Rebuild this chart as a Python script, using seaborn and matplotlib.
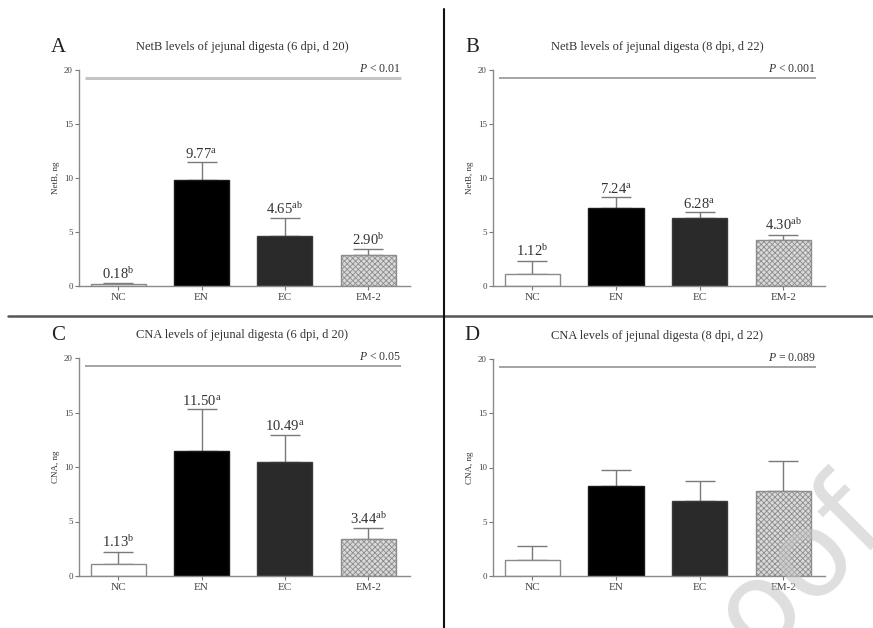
import matplotlib
matplotlib.use("Agg")
import matplotlib.pyplot as plt
from matplotlib.lines import Line2D
import seaborn as sns
import pandas as pd

# ---------------- data ----------------
groups = ["NC", "EN", "EC", "EM-2"]

netb_d20 = [0.18, 9.77, 4.65, 2.90]
netb_d20_err = [0.08, 1.70, 1.62, 0.50]
netb_d20_sup = ["b", "a", "ab", "b"]

netb_d22 = [1.12, 7.24, 6.28, 4.30]
netb_d22_err = [1.19, 0.96, 0.54, 0.42]
netb_d22_sup = ["b", "a", "a", "ab"]

cna_d20 = [1.13, 11.50, 10.49, 3.44]
cna_d20_err = [1.08, 3.80, 2.46, 0.92]
cna_d20_sup = ["b", "a", "a", "ab"]

cna_d22 = [1.51, 8.32, 6.93, 7.83]
cna_d22_err = [1.23, 1.45, 1.85, 2.80]

panel_letters = ["A", "B", "C", "D"]
titles = [
    "NetB levels of jejunal digesta (6 dpi, d 20)",
    "NetB levels of jejunal digesta (8 dpi, d 22)",
    "CNA levels of jejunal digesta (6 dpi, d 20)",
    "CNA levels of jejunal digesta (8 dpi, d 22)",
]
ylabels = ["NetB, ng", "NetB, ng", "CNA, ng", "CNA, ng"]
pvals = ["< 0.01", "< 0.001", "< 0.05", "= 0.089"]
yticks = [0, 5, 10, 15, 20]

# ---------------- style ----------------
sns.set_theme(style="ticks")
plt.rcParams["font.family"] = ["Liberation Serif", "DejaVu Serif"]
plt.rcParams["mathtext.fontset"] = "custom"
plt.rcParams["mathtext.rm"] = "Liberation Serif"
plt.rcParams["mathtext.it"] = "Liberation Serif:italic"
plt.rcParams["hatch.linewidth"] = 0.6

face = {"NC": "#ffffff", "EN": "#000000", "EC": "#2a2a2a", "EM-2": "#d9d9d9"}
edge = {"NC": "#8a8a8a", "EN": "#1a1a1a", "EC": "#3a3a3a", "EM-2": "#8c8c8c"}

W, H = 873, 628
fig = plt.figure(figsize=(W / 100, H / 100), dpi=100)


def px_axes(left, right, top, bottom):
    return fig.add_axes([left / W, 1 - bottom / H, (right - left) / W, (bottom - top) / H])


boxes = [(79, 410, 70, 286), (493, 825, 70, 286), (79, 410, 358, 576), (493, 825, 359, 576)]
series = [
    (netb_d20, netb_d20_err, netb_d20_sup),
    (netb_d22, netb_d22_err, netb_d22_sup),
    (cna_d20, cna_d20_err, cna_d20_sup),
    (cna_d22, cna_d22_err, None),
]
pline_col = ["#c4c4c4", "#8a8a8a", "#8a8a8a", "#8a8a8a"]
pline_lw = [2.2, 1.1, 1.1, 1.1]

for i, (box, (vals, errs, sups)) in enumerate(zip(boxes, series)):
    ax = px_axes(*box)
    df = pd.DataFrame({"group": groups, "value": vals})
    sns.barplot(data=df, x="group", y="value", hue="group", palette=face,
                width=0.66, legend=False, ax=ax, errorbar=None, zorder=2)
    for patch, g in zip(ax.patches, groups):
        patch.set_edgecolor(edge[g])
        patch.set_linewidth(1.0)
        if g == "EM-2":
            patch.set_hatch("xxxxxx")
    ax.errorbar(range(len(groups)), vals, yerr=[[0] * len(errs), errs], fmt="none",
                ecolor="#7a7a7a", elinewidth=1.0, capsize=10.5, capthick=1.0, zorder=1)
    if sups is not None:
        for k, (v, e, s) in enumerate(zip(vals, errs, sups)):
            ax.text(k, v + e + 0.15, rf"$\mathregular{{{v:.2f}^{{{s}}}}}$", ha="center",
                    va="bottom", fontsize=10.5, color="#333333")
    ax.set_xlim(-0.47, 3.5)
    ax.set_ylim(0, 20)
    ax.set_yticks(yticks)
    ax.set_xlabel("")
    ax.set_ylabel(ylabels[i], fontsize=6.5, color="#333333", labelpad=3)
    ax.tick_params(axis="y", labelsize=6.5, length=3, width=0.8, colors="#777777",
                   labelcolor="#444444", pad=1.5)
    ax.tick_params(axis="x", labelsize=8, length=3, width=0.8, colors="#777777",
                   labelcolor="#444444", pad=2)
    for sp in ["top", "right"]:
        ax.spines[sp].set_visible(False)
    for sp in ["left", "bottom"]:
        ax.spines[sp].set_color("#8a8a8a")
        ax.spines[sp].set_linewidth(1.0)
    ax.plot([-0.40, 3.39], [19.3, 19.3], color=pline_col[i], lw=pline_lw[i],
            solid_capstyle="butt", clip_on=False)
    ax.text(3.39, 19.55, rf"$P$ {pvals[i]}", ha="right", va="bottom", fontsize=8.5,
            color="#333333")
    # title and panel letter
    left, right, top, bottom = box
    fig.text(((left + right) / 2 - 2) / W, 1 - (top - 23) / H, titles[i], ha="center",
             va="center", fontsize=9, color="#333333")
    fig.text((left - 21) / W, 1 - (top - 23) / H, panel_letters[i], ha="center",
             va="center", fontsize=15, color="#222222")

# dividers
fig.add_artist(Line2D([8 / W, 1.0], [1 - 316 / H, 1 - 316 / H], color="#555555", lw=1.8))
fig.add_artist(Line2D([444 / W, 444 / W], [1 - 9 / H, 0.0], color="#111111", lw=1.5))

# watermark fragment
fig.text(800 / W, 1 - 568 / H, "oof", rotation=45, ha="center", va="center",
         fontsize=86, color="#c4c4c4", alpha=0.55, family="DejaVu Sans", zorder=10)

fig.savefig("out.png", dpi=100)
